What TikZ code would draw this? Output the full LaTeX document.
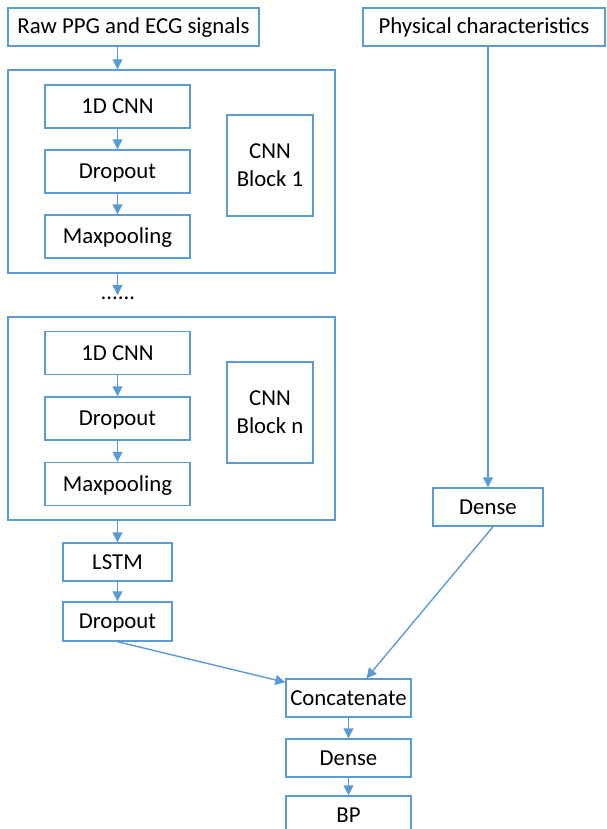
\documentclass[tikz,border=0pt]{standalone}
\usepackage{fontspec}
\setmainfont{Carlito}
\usetikzlibrary{arrows.meta,calc}
\definecolor{bl}{HTML}{5B9BD5}
\begin{document}
\begin{tikzpicture}[x=1pt,y=-1pt,
  box/.style={draw=bl,line width=1.4pt,inner sep=0pt,font=\fontsize{22.8}{28}\selectfont,text=black},
  one/.style={box,text height=15pt,text depth=1pt},
  two/.style={box,align=center},
  arr/.style={draw=bl,line width=1.4pt,-{Triangle[length=10pt,width=10pt]}}]
\useasboundingbox (0,0) rectangle (606,829);
\node[one,minimum width=251pt,minimum height=38pt] (raw) at (133.5,27) {Raw PPG and ECG signals};
\node[box,minimum width=327pt,minimum height=203pt] (b1) at (171.5,171.5) {};
\node[one,minimum width=145pt,minimum height=43pt] (c1) at (117.5,106.5) {1D CNN};
\node[one,minimum width=145pt,minimum height=43pt] (d1) at (117.5,171.5) {Dropout};
\node[one,minimum width=145pt,minimum height=43pt] (m1) at (117.5,236.5) {Maxpooling};
\node[two,minimum width=86pt,minimum height=101pt] (l1) at (270,165.5) {CNN\\Block 1};
\node[font=\fontsize{22.8}{28}\selectfont,inner sep=0pt] (dots) at (118,298) {......};
\coordinate (dtop) at (117.5,295);
\node[box,minimum width=327pt,minimum height=203pt] (bn) at (171.5,418.5) {};
\node[one,minimum width=145pt,minimum height=43pt] (cn) at (117.5,353) {1D CNN};
\node[one,minimum width=145pt,minimum height=43pt] (dn) at (117.5,418.5) {Dropout};
\node[one,minimum width=145pt,minimum height=43pt] (mn) at (117.5,484) {Maxpooling};
\node[two,minimum width=86pt,minimum height=101pt] (ln) at (270,412.5) {CNN\\Block n};
\node[one,minimum width=109pt,minimum height=38pt] (lstm) at (117.5,562) {LSTM};
\node[one,minimum width=109pt,minimum height=39pt] (d2) at (117.5,621.5) {Dropout};
\node[one,minimum width=242pt,minimum height=38pt] (phys) at (484,27) {Physical characteristics};
\node[one,minimum width=110pt,minimum height=38pt] (de1) at (488,507) {Dense};
\node[one,minimum width=125pt,minimum height=38pt] (cat) at (348.5,698) {Concatenate};
\node[one,minimum width=125pt,minimum height=38pt] (de2) at (348.5,758) {Dense};
\node[one,minimum width=125pt,minimum height=38pt] (bp) at (348.5,815) {BP};
\draw[arr] (c1.north |- raw.south) -- (c1.north |- b1.north);
\draw[arr] (c1) -- (d1);
\draw[arr] (d1) -- (m1);
\draw[arr] (c1.south |- b1.south) -- (dtop);
\draw[arr] (cn) -- (dn);
\draw[arr] (dn) -- (mn);
\draw[arr] (lstm.north |- bn.south) -- (lstm);
\draw[arr] (lstm) -- (d2);
\draw[arr] (phys.south -| de1) -- (de1);
\draw[arr] (d2.south) -- ([yshift=-4pt]cat.north west);
\draw[arr] ([xshift=5pt]de1.south) -- ([xshift=18pt]cat.north);
\draw[arr] (cat) -- (de2);
\draw[arr] (de2) -- (bp);
\end{tikzpicture}
\end{document}
